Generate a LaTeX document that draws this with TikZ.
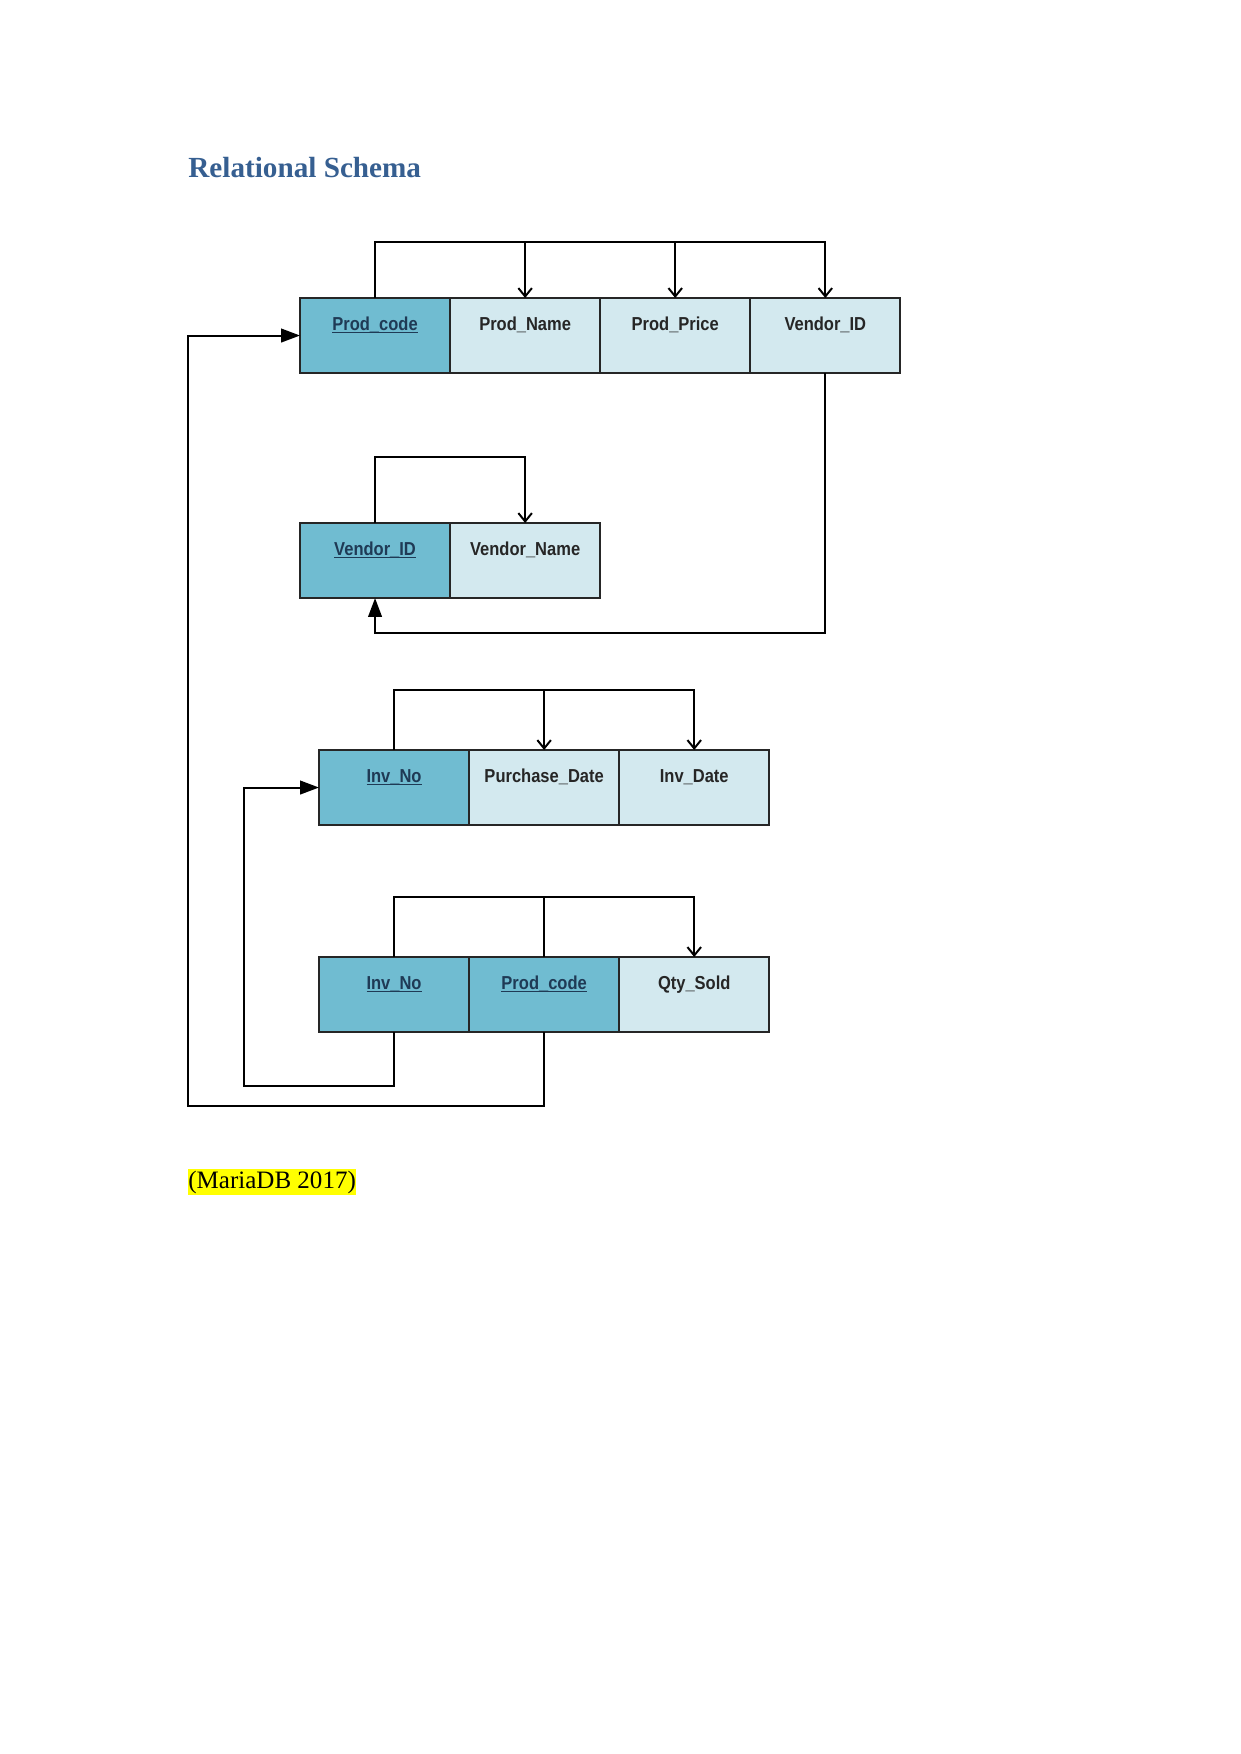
\documentclass[tikz,border=0pt]{standalone}
\usepackage{fontspec}
\setmainfont{Liberation Serif}
\newfontfamily\cellfont[FakeStretch=0.88]{Liberation Sans}
\usetikzlibrary{arrows.meta,positioning}
\definecolor{pkfill}{HTML}{70BCD1}
\definecolor{atfill}{HTML}{D3E9EF}
\definecolor{head}{HTML}{365F91}
\definecolor{pktext}{HTML}{1F3A55}
\definecolor{mark}{HTML}{FFFF00}
\tikzset{
  cell/.style={draw=black!85,line width=1pt,minimum width=72pt,minimum height=36pt,inner sep=0pt,outer sep=0pt,
    text height=6.5pt,text depth=11.7pt,font=\cellfont\bfseries\fontsize{9}{10}\selectfont,text=black!85},
  pkcell/.style={cell,fill=pkfill,text=pktext},
  atcell/.style={cell,fill=atfill},
  dep/.style={-{Straight Barb[length=4pt,width=6.5pt]},line width=0.95pt},
  fk/.style={-{Triangle[length=9pt,width=6.5pt]},line width=0.95pt},
  bus/.style={line width=0.95pt},
}
% key attribute: underline at the height of the underscore
\newcommand{\pkey}[1]{\setbox0\hbox{#1}\rlap{\rule[-1.3pt]{\wd0}{0.6pt}}\box0}

\begin{document}
\begin{tikzpicture}[x=0.4797pt,y=-0.4797pt]
  \useasboundingbox (0,0) rectangle (1241,1754);
  \node[anchor=base west,inner sep=0pt,text=head,font=\bfseries\fontsize{14}{16}\selectfont] (title) at (188,177) {Relational Schema};

  % product
  \node[pkcell,anchor=north west] (pcode) at (300,298) {\pkey{Prod\_code}};
  \node[atcell,right=0pt of pcode] (pname) {Prod\_Name};
  \node[atcell,right=0pt of pname] (pprice) {Prod\_Price};
  \node[atcell,right=0pt of pprice] (pvend) {Vendor\_ID};

  % vendor
  \node[pkcell,anchor=north west] (vid) at (300,523) {\pkey{Vendor\_ID}};
  \node[atcell,right=0pt of vid] (vname) {Vendor\_Name};

  % invoice
  \node[pkcell,anchor=north west] (iinv) at (319,750) {\pkey{Inv\_No}};
  \node[atcell,right=0pt of iinv] (ipdate) {Purchase\_Date};
  \node[atcell,right=0pt of ipdate] (iidate) {Inv\_Date};

  % sales
  \node[pkcell,anchor=north west] (sinv) at (319,957) {\pkey{Inv\_No}};
  \node[pkcell,right=0pt of sinv] (scode) {\pkey{Prod\_code}};
  \node[atcell,right=0pt of scode] (sqty) {Qty\_Sold};

  % functional dependencies
  \coordinate (pbus) at ([yshift=27pt]pcode.north);
  \draw[dep] (pcode.north) -- (pbus) -| (pvend.north);
  \foreach \c in {pname,pprice} \draw[dep] (pbus -| \c.north) -- (\c.north);
  \draw[dep] (vid.north) -- ([yshift=31.7pt]vid.north) -| (vname.north);
  \coordinate (ibus) at ([yshift=28.8pt]iinv.north);
  \draw[dep] (iinv.north) -- (ibus) -| (iidate.north);
  \draw[dep] (ibus -| ipdate.north) -- (ipdate.north);
  \coordinate (sbus) at ([yshift=29pt]sinv.north);
  \draw[dep] (sinv.north) -- (sbus) -| (sqty.north);
  \draw[bus] (scode.north) -- (sbus -| scode.north);

  % foreign keys
  \coordinate (vloop) at ([yshift=-16.8pt]vid.south);
  \draw[fk] (pvend.south) |- (vloop) -- (vid.south);
  \draw[fk] (sinv.south) -- ++(0,54) -| ([xshift=-36pt]iinv.west) -- (iinv.west);
  \draw[fk] (scode.south) -- ++(0,74) -| ([xshift=-53.7pt]pcode.west) -- (pcode.west);

  \node[anchor=base west,fill=mark,inner xsep=0pt,inner ysep=1pt,font=\fontsize{12}{14}\selectfont] (cite) at (188,1188) {(MariaDB 2017)};
\end{tikzpicture}
\end{document}
